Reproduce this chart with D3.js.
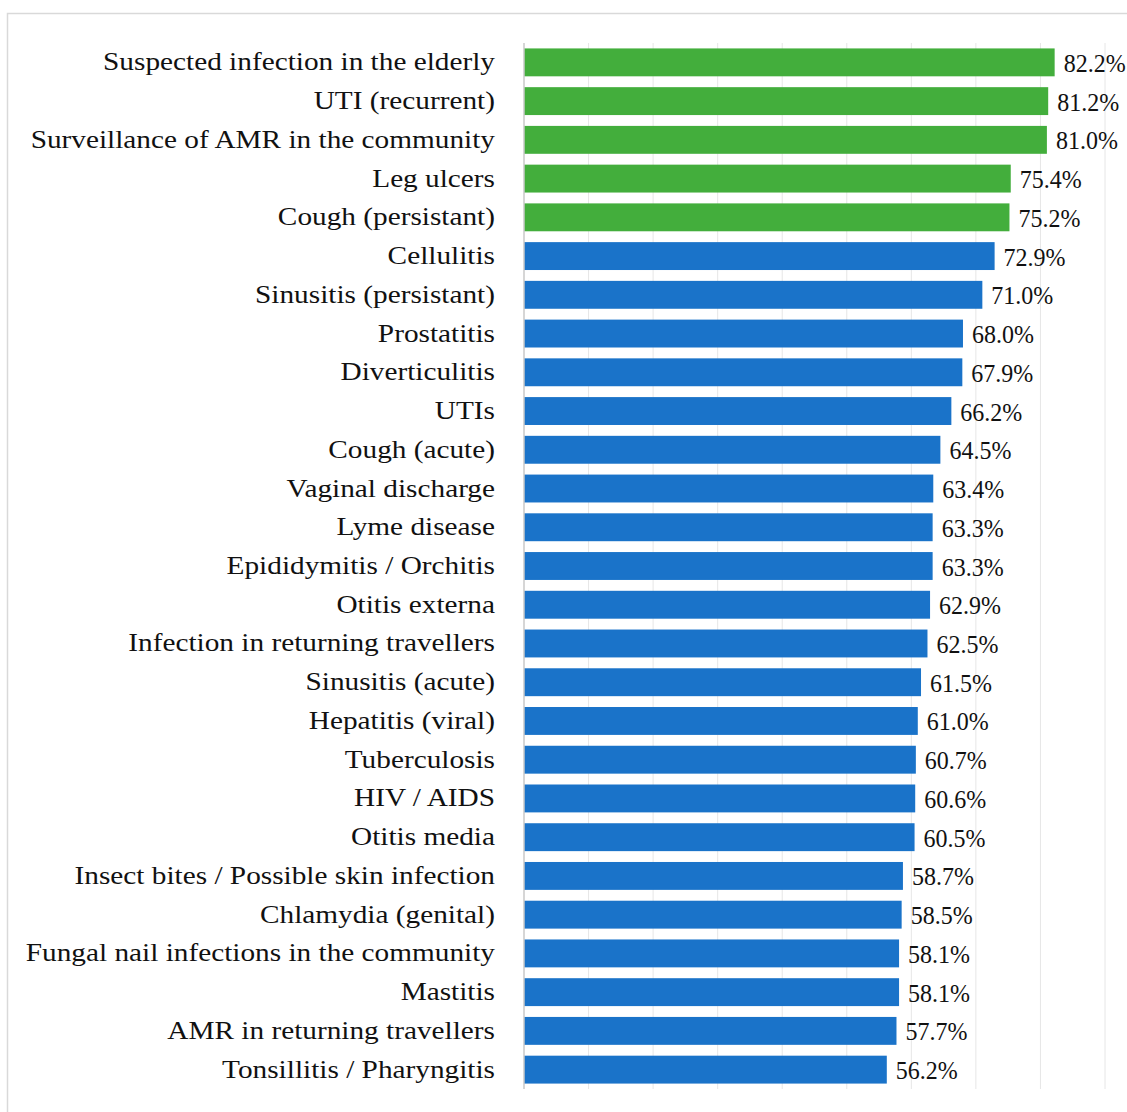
<!DOCTYPE html>
<html><head><meta charset="utf-8">
<script src="https://cdn.jsdelivr.net/npm/d3@7"></script>
<style>body{margin:0;background:#fff;} svg{display:block;}</style>
</head><body>
<svg id="chart" width="1127" height="1112"></svg>
<script>
const categories = ["Suspected infection in the elderly","UTI (recurrent)","Surveillance of AMR in the community","Leg ulcers","Cough (persistant)","Cellulitis","Sinusitis (persistant)","Prostatitis","Diverticulitis","UTIs","Cough (acute)","Vaginal discharge","Lyme disease","Epididymitis / Orchitis","Otitis externa","Infection in returning travellers","Sinusitis (acute)","Hepatitis (viral)","Tuberculosis","HIV / AIDS","Otitis media","Insect bites / Possible skin infection","Chlamydia (genital)","Fungal nail infections in the community","Mastitis","AMR in returning travellers","Tonsillitis / Pharyngitis"];
const values = [82.2,81.2,81.0,75.4,75.2,72.9,71.0,68.0,67.9,66.2,64.5,63.4,63.3,63.3,62.9,62.5,61.5,61.0,60.7,60.6,60.5,58.7,58.5,58.1,58.1,57.7,56.2];
const groups = ["top","top","top","top","top","other","other","other","other","other","other","other","other","other","other","other","other","other","other","other","other","other","other","other","other","other","other"];
const gridTicks = [10,20,30,40,50,60,70,80,90];

const svg = d3.select("#chart");
const font = "'Liberation Serif', 'Times New Roman', serif";
svg.append("rect").attr("x",7.5).attr("y",13.5).attr("width",1140).attr("height",1120)
  .attr("fill","none").attr("stroke","#d9d9d9").attr("stroke-width",1.5);

const x = d3.scaleLinear().domain([0,90]).range([524,1105]);
const y = d3.scaleBand().domain(categories).range([43,1089]).paddingInner(0.28).paddingOuter(0.14);
const color = d3.scaleOrdinal().domain(["top","other"]).range(["#43ae3c","#1a73c9"]);

// horizontal stretch so widths match the reference's wider (Palatino-like) face
function stretch(str, size, target){
  const t = svg.append("text").attr("font-family",font).attr("font-size",size).text(str);
  const w = t.node().getComputedTextLength(); t.remove();
  return target/w;
}
const labelSize = 26, valueSize = 25;
const labelSX = stretch(categories[0], labelSize, 392);
const valueSX = stretch("82.2%", valueSize, 62);

svg.append("g").selectAll("line").data(gridTicks).join("line")
  .attr("x1",d=>x(d)).attr("x2",d=>x(d)).attr("y1",43).attr("y2",1089)
  .attr("stroke","#e6e6e6").attr("stroke-width",1);

svg.append("g").selectAll("rect").data(values).join("rect")
  .attr("x",x(0)).attr("y",(d,i)=>y(categories[i]))
  .attr("width",d=>x(d)-x(0)).attr("height",y.bandwidth())
  .attr("fill",(d,i)=>color(groups[i]));

svg.append("line").attr("x1",x(0)).attr("x2",x(0)).attr("y1",43).attr("y2",1089)
  .attr("stroke","#c8c8c8").attr("stroke-width",1.5);

svg.append("g").selectAll("text").data(categories).join("text")
  .attr("transform",d=>`translate(495,${y(d)+y.bandwidth()/2+8}) scale(${labelSX},1)`)
  .attr("text-anchor","end").attr("font-family",font).attr("font-size",labelSize).attr("fill","#111")
  .text(d=>d);

svg.append("g").selectAll("text").data(values).join("text")
  .attr("transform",(d,i)=>`translate(${x(d)+9},${y(categories[i])+y.bandwidth()/2+9.5}) scale(${valueSX},1)`)
  .attr("font-family",font).attr("font-size",valueSize).attr("fill","#111")
  .text(d=>d.toFixed(1)+"%");
</script>
</body></html>
